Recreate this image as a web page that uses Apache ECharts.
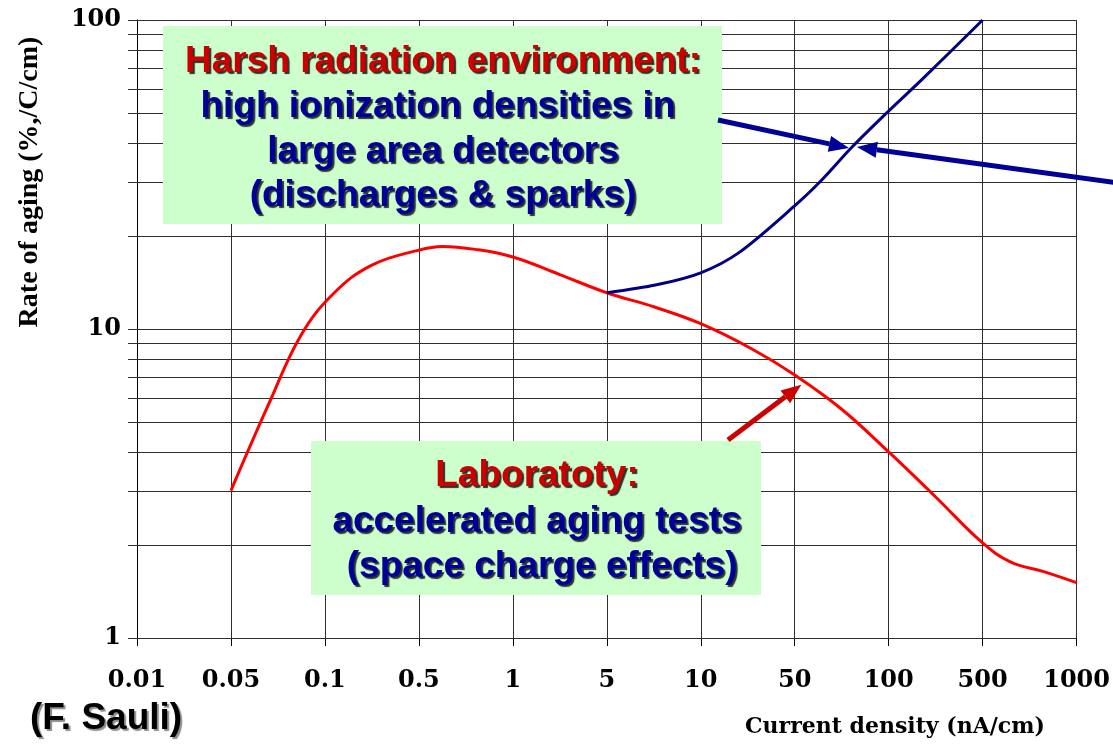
<!DOCTYPE html>
<html>
<head>
<meta charset="utf-8">
<script src="https://cdn.jsdelivr.net/npm/echarts@6/dist/echarts.min.js"></script>
<style>
  html, body { margin: 0; padding: 0; background: #ffffff; }
  #main { width: 1113px; height: 744px; }
</style>
</head>
<body>
<div id="main"></div>
<script>
// Current density steps, drawn evenly spaced along the x axis
const xTickLabels = ['0.01', '0.05', '0.1', '0.5', '1', '5', '10', '50', '100', '500', '1000'];

// Horizontal rules of the log grid (decades and their subdivisions)
const yGridValues = [1, 2, 3, 4, 5, 6, 7, 8, 9, 10, 20, 30, 40, 50, 60, 70, 80, 90, 100];

// Laboratory curve: position on the step axis and rate of aging
const labPosition = [1, 1.4, 1.75, 2.1, 2.5, 3, 3.25, 3.6, 4, 4.5, 5, 5.5, 6, 6.55, 7, 7.5, 8, 8.5, 9, 9.3, 9.65, 10];
const labRate     = [3, 5.7, 9.6, 13.1, 16.1, 18.0, 18.5, 18.1, 17.1, 15.0, 13.1, 11.8, 10.4, 8.6, 7.1, 5.5, 4.0, 2.86, 2.03, 1.76, 1.64, 1.51];

// Harsh radiation environment curve
const harshPosition = [5, 5.53, 6, 6.41, 7.01, 7.29, 7.61, 8.01, 8.35, 9];
const harshRate     = [13.1, 13.9, 15.2, 17.7, 25.2, 30.4, 38.8, 51.1, 64, 100];

const zip = (xs, ys) => xs.map((x, i) => [x, ys[i]]);

const chart = echarts.init(document.getElementById('main'), null, { renderer: 'canvas' });

const serifTick = {
  fontFamily: '"DejaVu Serif", serif',
  fontWeight: 'bold',
  fontSize: 24,
  color: '#000000'
};

chart.setOption({
  animation: false,
  backgroundColor: '#ffffff',
  grid: { left: 137, right: 35, top: 20, bottom: 106, containLabel: false },
  xAxis: {
    type: 'value',
    min: 0,
    max: xTickLabels.length - 1,
    interval: 1,
    axisLine: { show: true, lineStyle: { color: '#000000', width: 1 } },
    axisTick: { show: true, inside: false, length: 8, lineStyle: { color: '#000000', width: 1 } },
    axisLabel: Object.assign({}, serifTick, {
      margin: 31,
      formatter: v => xTickLabels[Math.round(v)]
    }),
    splitLine: { show: true, lineStyle: { color: '#2e2e2e', width: 1 } }
  },
  yAxis: {
    type: 'log',
    logBase: 10,
    min: 1,
    max: 100,
    axisLine: { show: true, lineStyle: { color: '#000000', width: 1 } },
    axisTick: { show: false },
    axisLabel: Object.assign({}, serifTick, { margin: 16 }),
    splitLine: { show: false }
  },
  series: [
    {
      // horizontal grid rules, each with a short outward tick on the left
      type: 'custom',
      name: 'grid',
      silent: true,
      clip: false,
      z: 1,
      data: yGridValues.map(v => [0, v]),
      encode: { x: 0, y: 1 },
      renderItem: (params, api) => {
        const a = api.coord([0, api.value(1)]);
        const b = api.coord([xTickLabels.length - 1, api.value(1)]);
        const y = Math.round(a[1]) + 0.5;
        return {
          type: 'line',
          shape: { x1: a[0] - 9, y1: y, x2: b[0], y2: y },
          style: { stroke: '#2e2e2e', lineWidth: 1 }
        };
      }
    },
    {
      type: 'line',
      name: 'Laboratory',
      data: zip(labPosition, labRate),
      smooth: 0.4,
      showSymbol: false,
      z: 5,
      lineStyle: { color: '#ff0000', width: 3 }
    },
    {
      type: 'line',
      name: 'Harsh radiation environment',
      data: zip(harshPosition, harshRate),
      smooth: 0.3,
      showSymbol: false,
      z: 5,
      lineStyle: { color: '#000080', width: 3 }
    }
  ]
});

// ---- annotations ----
const toPx = p => chart.convertToPixel({ gridIndex: 0 }, p);

function arrow(from, tip, color) {
  const dx = tip[0] - from[0], dy = tip[1] - from[1];
  const len = Math.hypot(dx, dy);
  const ux = dx / len, uy = dy / len;
  const headLen = 20, headHalf = 8;
  const base = [tip[0] - ux * headLen, tip[1] - uy * headLen];
  return [
    { type: 'line', z: 20, silent: true,
      shape: { x1: from[0], y1: from[1], x2: base[0], y2: base[1] },
      style: { stroke: color, lineWidth: 5 } },
    { type: 'polygon', z: 20, silent: true,
      shape: { points: [tip, [base[0] - uy * headHalf, base[1] + ux * headHalf], [base[0] + uy * headHalf, base[1] - ux * headHalf]] },
      style: { fill: color } }
  ];
}

function boxText(text, x, y, color) {
  return {
    type: 'text', x: x, y: y, z: 16, silent: true,
    style: {
      text: text,
      fill: color,
      font: 'bold 37px "Liberation Sans", Arial, sans-serif',
      align: 'center',
      verticalAlign: 'middle',
      textShadowColor: 'rgba(0,0,0,0.8)',
      textShadowOffsetX: 2,
      textShadowOffsetY: 2,
      textShadowBlur: 1
    }
  };
}

const RED = '#cc0000';
const BLUE = '#000099';

const harshTarget = toPx([7.62, 38.8]);
const labTarget = toPx([7.07, 6.6]);

const graphics = [
  { type: 'rect', z: 15, silent: true, shape: { x: 163, y: 26, width: 559, height: 198 }, style: { fill: '#ccffcc' } },
  boxText('Harsh radiation environment:', 443, 62, RED),
  boxText('high ionization densities in ', 443, 107, BLUE),
  boxText('large area detectors', 443, 152, BLUE),
  boxText('(discharges & sparks)', 443, 196, BLUE),

  { type: 'rect', z: 15, silent: true, shape: { x: 311, y: 441, width: 450, height: 154 }, style: { fill: '#ccffcc' } },
  boxText('Laboratoty:', 537, 476, RED),
  boxText('accelerated aging tests', 537, 522, BLUE),
  boxText(' (space charge effects)', 537, 567, BLUE),

  // axis titles and credit
  { type: 'text', x: 30, y: 182, rotation: Math.PI / 2, z: 10, silent: true,
    style: { text: 'Rate of aging (%,/C/cm)', fill: '#000000',
             font: 'bold 28px "Liberation Serif", "Times New Roman", serif',
             align: 'center', verticalAlign: 'middle' } },
  { type: 'text', x: 895, y: 727, z: 10, silent: true,
    style: { text: 'Current density (nA/cm)', fill: '#000000',
             font: 'bold 22px "DejaVu Serif", serif',
             align: 'center', verticalAlign: 'middle' } },
  { type: 'text', x: 30, y: 719, z: 10, silent: true,
    style: { text: '(F. Sauli)', fill: '#000000',
             font: 'bold 37px "Liberation Sans", Arial, sans-serif',
             align: 'left', verticalAlign: 'middle',
             textShadowColor: 'rgba(0,0,0,0.45)', textShadowOffsetX: 2, textShadowOffsetY: 2, textShadowBlur: 1 } }
]
  .concat(arrow([718, 120], [harshTarget[0] - 4, harshTarget[1] + 1], BLUE))
  .concat(arrow([1118, 183], [harshTarget[0] + 4, harshTarget[1]], BLUE))
  .concat(arrow([728, 440], labTarget, RED));

chart.setOption({ graphic: graphics });
</script>
</body>
</html>
